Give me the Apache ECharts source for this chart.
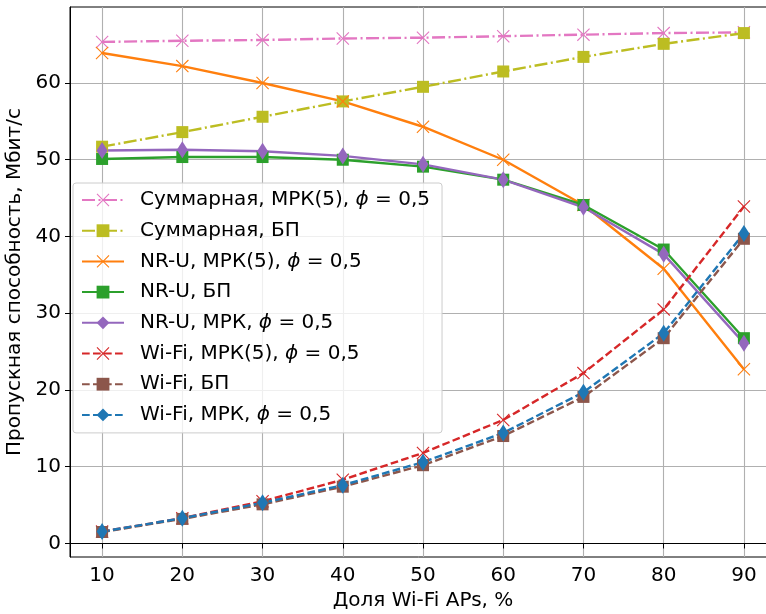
<!DOCTYPE html>
<html>
<head>
<meta charset="utf-8">
<script src="https://cdn.jsdelivr.net/npm/echarts@6/dist/echarts.min.js"></script>
<style>
  html, body { margin: 0; padding: 0; background: #fff; }
  #chart { width: 766px; height: 614px; }
</style>
</head>
<body>
<div id="chart"></div>
<script>
// data
const xValues = [10, 20, 30, 40, 50, 60, 70, 80, 90]
const xTicks = [10, 20, 30, 40, 50, 60, 70, 80, 90]
const yTicks = [0, 10, 20, 30, 40, 50, 60]

const sumMrk5 = [65.35, 65.5, 65.6, 65.8, 65.9, 66.1, 66.3, 66.5, 66.6]
const sumBp = [51.7, 53.6, 55.6, 57.6, 59.5, 61.5, 63.4, 65.1, 66.5]
const nruMrk5 = [63.9, 62.2, 60.0, 57.6, 54.3, 50.0, 44.1, 35.8, 22.7]
const nruBp = [50.1, 50.35, 50.35, 50.0, 49.1, 47.4, 44.1, 38.3, 26.75]
const nruMrk = [51.2, 51.3, 51.1, 50.5, 49.4, 47.4, 43.8, 37.7, 26.1]
const wifiMrk5 = [1.55, 3.3, 5.5, 8.3, 11.8, 16.1, 22.2, 30.5, 43.9]
const wifiBp = [1.5, 3.2, 5.1, 7.4, 10.2, 14.0, 19.1, 26.75, 39.7]
const wifiMrk = [1.55, 3.3, 5.3, 7.6, 10.6, 14.4, 19.7, 27.4, 40.4]

const names = [
  'Суммарная, МРК(5), ϕ = 0,5',
  'Суммарная, БП',
  'NR-U, МРК(5), ϕ = 0,5',
  'NR-U, БП',
  'NR-U, МРК, ϕ = 0,5',
  'Wi-Fi, МРК(5), ϕ = 0,5',
  'Wi-Fi, БП',
  'Wi-Fi, МРК, ϕ = 0,5'
]

const FONT = 'DejaVu Sans'
const FS = 20
const dashDot = [13, 3.5, 2, 3.5]
const dashed = [7.7, 3.3]
// thin "x" marker as a filled polygon
const xMark = 'path://M0,6L6,0L50,44L94,0L100,6L56,50L100,94L94,100L50,56L6,100L0,94L44,50Z'

function pairs(ys) {
  return xValues.map((x, i) => [x, ys[i]])
}

function mkSeries(name, ys, color, type, symbol) {
  let symbolSize = 12
  if (symbol === 'x') symbolSize = 13
  if (symbol === 'diamond') symbolSize = [11, 17]
  return {
    name: name,
    type: 'line',
    data: pairs(ys),
    symbol: symbol === 'x' ? xMark : (symbol === 'square' ? 'rect' : 'diamond'),
    symbolSize: symbolSize,
    showAllSymbol: true,
    lineStyle: { color: color, width: 2.4, type: type },
    itemStyle: { color: color, opacity: 1 },
    emphasis: { disabled: true },
    animation: false
  }
}

const series = [
  mkSeries(names[0], sumMrk5, '#e377c2', dashDot, 'x'),
  mkSeries(names[1], sumBp, '#bcbd22', dashDot, 'square'),
  mkSeries(names[2], nruMrk5, '#ff7f0e', 'solid', 'x'),
  mkSeries(names[3], nruBp, '#2ca02c', 'solid', 'square'),
  mkSeries(names[4], nruMrk, '#9467bd', 'solid', 'diamond'),
  mkSeries(names[5], wifiMrk5, '#d62728', dashed, 'x'),
  mkSeries(names[6], wifiBp, '#8c564b', dashed, 'square'),
  mkSeries(names[7], wifiMrk, '#1f77b4', dashed, 'diamond')
]

const option = {
  backgroundColor: '#fff',
  animation: false,
  textStyle: { fontFamily: FONT },
  grid: {
    left: 70, top: 7, width: 706, bottom: 57,
    containLabel: false,
    outerBoundsMode: 'none',
    show: true, borderColor: '#000', borderWidth: 1, backgroundColor: 'transparent'
  },
  legend: {
    orient: 'vertical',
    left: 73, top: 183,
    padding: [7, 12, 8, 8],
    itemWidth: 42, itemHeight: 16, itemGap: 10.7,
    backgroundColor: 'rgba(255,255,255,0.8)',
    borderColor: '#cccccc', borderWidth: 1, borderRadius: 3,
    data: names,
    formatter: (name) => {
      const parts = name.split('ϕ')
      if (parts.length === 1) return '{a|' + name + '}'
      return '{a|' + parts[0] + '}{i|ϕ}{a|' + parts[1] + '}'
    },
    textStyle: {
      fontFamily: FONT, fontSize: FS, color: '#000', padding: [0, 0, 0, 11],
      rich: {
        a: { fontFamily: FONT, fontSize: FS, color: '#000' },
        i: { fontFamily: FONT, fontSize: FS, color: '#000', fontStyle: 'italic' }
      }
    }
  },
  xAxis: {
    type: 'value',
    min: 6, max: 94,
    name: 'Доля Wi-Fi APs, %',
    nameLocation: 'middle',
    nameGap: 32,
    nameTextStyle: { fontFamily: FONT, fontSize: FS, color: '#000' },
    axisLine: { show: true, lineStyle: { color: '#000', width: 1 } },
    axisTick: { show: true, inside: false, length: 5, lineStyle: { color: '#000' }, customValues: xTicks },
    axisLabel: { fontFamily: FONT, fontSize: FS, color: '#000', margin: 9, customValues: xTicks },
    splitLine: { show: true, lineStyle: { color: '#b0b0b0', width: 1.1 } }
  },
  yAxis: {
    type: 'value',
    min: -1.76, max: 69.9,
    name: 'Пропускная способность, Мбит/с',
    nameLocation: 'middle',
    nameGap: 37,
    nameTextStyle: { fontFamily: FONT, fontSize: FS, color: '#000' },
    axisLine: { show: true, lineStyle: { color: '#000', width: 1 } },
    axisTick: { show: true, inside: false, length: 5, lineStyle: { color: '#000' }, customValues: yTicks },
    axisLabel: { fontFamily: FONT, fontSize: FS, color: '#000', margin: 9, customValues: yTicks },
    splitLine: { show: true, lineStyle: { color: '#b0b0b0', width: 1.1 } }
  },
  series: series
}

const chart = echarts.init(document.getElementById('chart'), null, { renderer: 'canvas' })
chart.setOption(option)
</script>
</body>
</html>
